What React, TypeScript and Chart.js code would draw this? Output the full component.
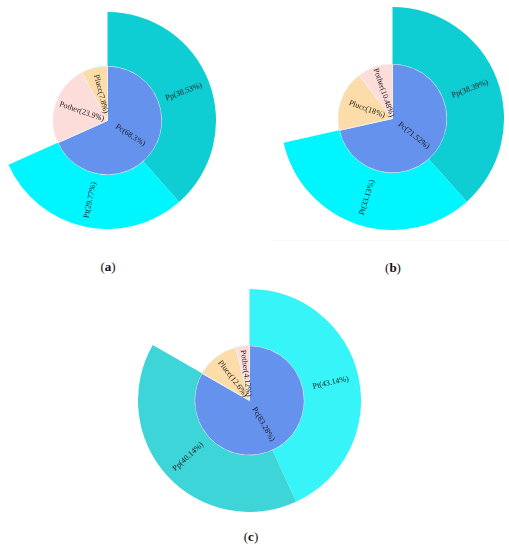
import React, { useEffect, useRef } from "react";
import { Chart, registerables } from "chart.js";

Chart.register(...registerables);

// ---- Data ----
const captionLetters = ["a", "b", "c"];

const innerNamesA = ["Pc", "Pother", "Plucc"];
const innerValuesA = [68.3, 23.9, 7.8];
const outerNamesA = ["Pp", "Pt"];
const outerValuesA = [38.53, 29.77];

const innerNamesB = ["Pc", "Plucc", "Pother"];
const innerValuesB = [71.52, 18, 10.48];
const outerNamesB = ["Pp", "Pt"];
const outerValuesB = [38.39, 33.13];

const innerNamesC = ["Pc", "Plucc", "Pother"];
const innerValuesC = [83.28, 12.6, 4.12];
const outerNamesC = ["Pt", "Pp"];
const outerValuesC = [43.14, 40.14];

// ---- Styles ----
const innerColorMap: Record<string, string> = {
  Pc: "#6592EC",
  Plucc: "#FCDCA8",
  Pother: "#FDDDD9",
};
const outerColorsA = ["#0ECDD3", "#00F6FF"];
const outerColorsB = ["#0ECDD3", "#00F6FF"];
const outerColorsC = ["#36F4F7", "#3DD5D8"];

type Panel = {
  cx: number;
  cy: number;
  R: number;
  rin: number;
  innerNames: string[];
  innerValues: number[];
  outerNames: string[];
  outerValues: number[];
  outerColors: string[];
  capX: number;
  capY: number;
  letter: string;
};

const panels: Panel[] = [
  { cx: 107, cy: 120, R: 108, rin: 54.2, innerNames: innerNamesA, innerValues: innerValuesA, outerNames: outerNamesA, outerValues: outerValuesA, outerColors: outerColorsA, capX: 108, capY: 267, letter: captionLetters[0] },
  { cx: 392, cy: 118, R: 111, rin: 54.3, innerNames: innerNamesB, innerValues: innerValuesB, outerNames: outerNamesB, outerValues: outerValuesB, outerColors: outerColorsB, capX: 393, capY: 268, letter: captionLetters[1] },
  { cx: 249, cy: 400, R: 111, rin: 54.6, innerNames: innerNamesC, innerValues: innerValuesC, outerNames: outerNamesC, outerValues: outerValuesC, outerColors: outerColorsC, capX: 251, capY: 537, letter: captionLetters[2] },
];

const radialLabels = {
  id: "radialLabels",
  afterDatasetsDraw(chart: any) {
    const ctx = chart.ctx;
    chart.data.datasets.forEach((ds: any, di: number) => {
      const meta = chart.getDatasetMeta(di);
      meta.data.forEach((arc: any, i: number) => {
        const text = ds.labelTexts[i];
        if (!text) return;
        const p = arc.getProps(["x", "y", "startAngle", "endAngle", "innerRadius", "outerRadius"], true);
        const mid = (p.startAngle + p.endAngle) / 2;
        const r = (p.innerRadius + p.outerRadius) / 2;
        const x = p.x + r * Math.cos(mid);
        const y = p.y + r * Math.sin(mid);
        let rot = mid;
        if (Math.cos(mid) < 0) rot += Math.PI;
        ctx.save();
        ctx.translate(x, y);
        ctx.rotate(rot);
        ctx.font = "8px 'Liberation Serif', 'Times New Roman', serif";
        ctx.fillStyle = "#1a1a1a";
        ctx.textAlign = "center";
        ctx.textBaseline = "middle";
        ctx.fillText(text, 0, 0);
        ctx.restore();
      });
    });
  },
};

function Sunburst({ panel }: { panel: Panel }) {
  const ref = useRef<HTMLCanvasElement>(null);
  const size = Math.round(2 * panel.R + 1);
  useEffect(() => {
    if (!ref.current) return;
    const outerSum = panel.outerValues.reduce((a, b) => a + b, 0);
    const chart = new Chart(ref.current, {
      type: "doughnut",
      data: {
        labels: [],
        datasets: [
          {
            data: [...panel.outerValues, 100 - outerSum],
            backgroundColor: [...panel.outerColors, "rgba(0,0,0,0)"],
            borderWidth: 0,
            weight: panel.R - panel.rin,
            labelTexts: [...panel.outerNames.map((n, i) => `${n}(${panel.outerValues[i]}%)`), ""],
          } as any,
          {
            data: panel.innerValues,
            backgroundColor: panel.innerNames.map((n) => innerColorMap[n]),
            borderColor: "rgba(240,240,240,0.9)",
            borderWidth: 1,
            weight: panel.rin,
            labelTexts: panel.innerNames.map((n, i) => `${n}(${panel.innerValues[i]}%)`),
          } as any,
        ],
      },
      options: {
        responsive: false,
        animation: false,
        cutout: 0,
        layout: { padding: 0 },
        plugins: { legend: { display: false }, tooltip: { enabled: false } },
        events: [],
      },
      plugins: [radialLabels],
    });
    return () => chart.destroy();
  }, []);
  return (
    <canvas
      ref={ref}
      width={size}
      height={size}
      style={{
        position: "absolute",
        left: panel.cx - size / 2,
        top: panel.cy - size / 2,
        width: size,
        height: size,
      }}
    />
  );
}

export default function App() {
  return (
    <div
      style={{
        position: "absolute",
        left: 0,
        top: 0,
        width: 509,
        height: 550,
        background: "#fff",
        overflow: "hidden",
        fontFamily: "'Liberation Serif', 'Times New Roman', serif",
      }}
    >
      <div style={{ position: "absolute", left: 270, top: 240, width: 239, height: 1, background: "rgba(0,0,0,0.018)" }} />
      {panels.map((p, i) => (
        <Sunburst key={i} panel={p} />
      ))}
      {panels.map((p, i) => (
        <div
          key={"c" + i}
          style={{
            position: "absolute",
            left: p.capX - 20,
            top: p.capY - 8,
            width: 40,
            textAlign: "center",
            fontSize: 13,
            lineHeight: "16px",
            color: "#111",
          }}
        >
          (<b>{p.letter}</b>)
        </div>
      ))}
    </div>
  );
}
